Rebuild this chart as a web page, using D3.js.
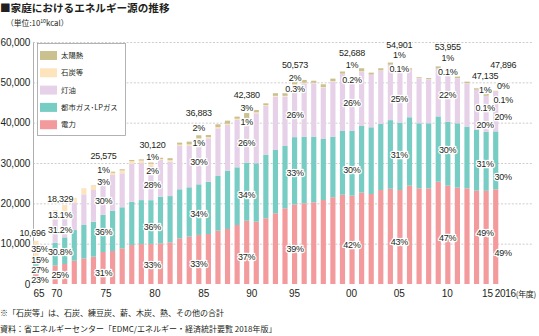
<!DOCTYPE html>
<html><head><meta charset="utf-8">
<script src="https://cdn.jsdelivr.net/npm/d3@7"></script>
<style>
html,body{margin:0;padding:0;background:#fff;}
svg{display:block;font-family:"Liberation Sans","Noto Sans CJK JP",sans-serif;}
</style></head><body>
<svg id="chart" width="539" height="336"></svg>
<script>
// ---------------- data (unit: 10^10 kcal) ----------------
const years = ["1965","1970","1971","1972","1973","1974","1975","1976","1977","1978","1979",
  "1980","1981","1982","1983","1984","1985","1986","1987","1988","1989",
  "1990","1991","1992","1993","1994","1995","1996","1997","1998","1999",
  "2000","2001","2002","2003","2004","2005","2006","2007","2008","2009",
  "2010","2011","2012","2013","2014","2015","2016"];
const electricity = [2460,4582,4960,5780,6360,6780,7928,8180,8850,9670,9900,
  9940,10090,10340,11330,11740,12170,12400,13220,13640,14630,
  15680,15460,16290,17530,18770,19720,20010,20260,20830,21500,
  22130,21900,22650,22320,23310,23610,23310,24380,23720,23720,
  25360,24380,23890,23720,23140,23100,23470];
const cityGasLPG = [2888,5645,6600,7600,8270,8670,9207,10000,10170,10730,10900,
  10843,11560,11460,12150,12230,12540,12970,13560,14460,14300,
  14410,14470,15700,15700,15450,16690,16520,16270,15120,15030,
  15810,16120,16530,16530,16370,17020,16700,16960,16130,16130,
  16190,15880,15960,15300,15050,14610,14370];
const kerosene = [1604,5719,6400,6700,7600,7850,7420,8850,8430,9360,9200,
  8434,9100,8550,10740,10250,11065,10760,11830,11330,11740,
  10600,12400,12150,13220,12230,13000,13230,13230,12730,13640,
  14115,11910,13470,12980,13220,13670,12890,11730,11160,10910,
  11810,11570,11160,10750,9920,8900,9860];
const coalEtc = [3744,2383,1600,1300,1500,1000,767,520,700,690,600,
  602,250,350,330,400,369,300,300,300,300,
  424,250,200,200,200,152,150,140,130,120,
  105,100,90,80,70,55,60,60,50,50,
  54,50,50,50,50,47,48];
const solarHeat = [0,0,0,0,0,100,256,300,300,300,300,
  301,300,500,500,680,738,520,690,770,530,
  1266,570,460,650,650,1011,680,500,700,630,
  527,560,750,490,520,549,530,360,200,250,
  540,370,360,350,370,471,150];

const seriesNames = ["電力","都市ガス･LPガス","灯油","石炭等","太陽熱"];
const yTicks = [0,10000,20000,30000,40000,50000,60000];
const xTickYears = ["1965","1970","1975","1980","1985","1990","1995","2000","2005","2010","2015","2016"];
const xTickLabels = ["65","70","75","80","85","90","95","00","05","10","15","2016"];

const labelYears   = ["1965","1970","1975","1980","1985","1990","1995","2000","2005","2010","2015","2016"];
const totalLabels  = ["10,696","18,329","25,575","30,120","36,883","42,380","50,573","52,688","54,901","53,955","47,135","47,896"];
const pctElectric  = ["23%","25%","31%","33%","33%","37%","39%","42%","43%","47%","49%","49%"];
const pctGas       = ["27%","30.8%","36%","36%","34%","34%","33%","30%","31%","30%","31%","30%"];
const pctKerosene  = ["15%","31.2%","30%","28%","30%","26%","26%","26%","25%","22%","20%","20%"];
const pctCoal      = ["35%","13.1%","3%","2%","1%","1%","0.3%","0.2%","0.1%","0.1%","0.1%","0.1%"];
const pctSolar     = ["","","1%","1%","2%","3%","2%","1%","1%","1%","1%","0%"];

// ---------------- layout / style ----------------
const colors = {e:"#f39a9d", g:"#77cdc3", k:"#e6d1e9", c:"#fde4bd", s:"#cbc18f"};
const keys = ["e","g","k","c","s"];
const textColor = "#231f20";
// label placement tweaks (pixels, relative to data positions)
const labelLayout = {
  "1965":{dx:4, totDx:-3.5, tot:-8,  coalMid:true, e:1, g:2, k:1},
  "1970":{dx:5, tot:-11, coalMid:true, e:0, g:-2, k:-1},
  "1975":{dx:0.5, tot:-25, s:-11, c:1,  e:5, g:-1.5, k:1},
  "1980":{dx:1.5, tot:-18, s:-6, c:8,  e:1, g:5, k:2},
  "1985":{dx:0, tot:-22, s:-7, c:8,  e:4.5, g:4.4, k:0},
  "1990":{dx:0, tot:-18, s:-5, c:9,  e:4, g:3, k:2},
  "1995":{dx:0.5, tot:-15, s:-2, c:9, e:5, g:2, k:4},
  "2000":{dx:9.5, tot:-18.5, s:-6.5, c:8.5, e:5, g:7, k:0.5},
  "2005":{dx:9, tot:-17.6, s:-7.6, c:6.4, e:5, g:0.6, k:6.5},
  "2010":{dx:9.5, tot:-19.4, s:-8.4, c:5.6, e:5, g:1, k:2.5},
  "2015":{dx:-1, tot:-18, s:-4, c:14, e:-5, g:2, k:11},
  "2016":{dx:7.5, tot:-26, s:-5, c:9, e:16, g:16, k:5.5}
};
const tickDx = {"65":3,"70":1.7,"75":3,"80":4,"85":5,"90":5,"95":0,"00":9,"05":9,"10":9,"15":1.5};

const svg = d3.select("#chart");

// scales
const xDomain = [years[0], "gap", ...years.slice(1)];
const x = d3.scaleBand().domain(xDomain).range([31.2, 500.5]).paddingInner(0.46).paddingOuter(0.23);
const y = d3.scaleLinear().domain([0, 60000]).range([284, 42]);
const xc = d => x(d) + x.bandwidth()/2;

// title
svg.append("text").attr("x",0).attr("y",11.5)
  .attr("font-size",10.6).attr("font-weight","bold").attr("fill",textColor)
  .attr("font-family","'Noto Sans CJK JP',sans-serif")
  .text("■家庭におけるエネルギー源の推移");
const sub = svg.append("text").attr("x",6).attr("y",26).attr("font-size",7.8).attr("fill",textColor)
  .attr("font-family","'Noto Sans CJK JP',sans-serif");
sub.append("tspan").text("（単位:10");
sub.append("tspan").attr("font-size",5.2).attr("dy",-3).text("10");
sub.append("tspan").attr("dy",3).text("kcal）");

// y axis with gridlines
const yAxis = d3.axisLeft(y).tickValues(yTicks).tickFormat(d3.format(","))
  .tickSize(-500).tickSizeOuter(0).tickPadding(3);
const gy = svg.append("g").attr("transform","translate(33,0)").call(yAxis);
gy.select(".domain").attr("stroke","#9a9a9a").attr("stroke-width",0.8);
gy.selectAll(".tick line").attr("stroke","#b8b8b8").attr("stroke-width",0.7).attr("stroke-dasharray","2,1.6")
  .filter(d => d === 0).remove();
gy.selectAll(".tick text").attr("font-size",10).attr("fill",textColor)
  .attr("font-family","'Liberation Sans',Arial,sans-serif").attr("letter-spacing",-0.2);

// stacked bars
const rows = years.map((yr,i)=>({year:yr, e:electricity[i], g:cityGasLPG[i], k:kerosene[i], c:coalEtc[i], s:solarHeat[i]}));
const stacked = d3.stack().keys(keys)(rows);
svg.append("g").selectAll("g").data(stacked).join("g")
  .attr("fill", d => colors[d.key])
  .selectAll("rect").data(d => d).join("rect")
  .attr("x", d => x(d.data.year))
  .attr("width", x.bandwidth())
  .attr("y", d => y(d[1]))
  .attr("height", d => Math.max(0, y(d[0]) - y(d[1])));

// legend
const legendOrder = [4,3,2,1,0];
const lg = svg.append("g");
lg.append("rect").attr("x",37.5).attr("y",43.5).attr("width",88).attr("height",92)
  .attr("fill","#fff").attr("stroke","#a0a0a0").attr("stroke-width",0.8);
legendOrder.forEach((si,j)=>{
  const yy = 51 + j*17.3;
  lg.append("rect").attr("x",40).attr("y",yy).attr("width",17).attr("height",9).attr("fill",colors[keys[si]]);
  lg.append("text").attr("x",61).attr("y",yy+4.5).attr("dy","0.35em").attr("font-size",7.4)
    .attr("fill",textColor).attr("font-family","'Noto Sans CJK JP',sans-serif").text(seriesNames[si]);
});

// value labels
const lblG = svg.append("g").attr("font-size",9).attr("fill",textColor).attr("text-anchor","middle")
  .attr("font-family","'Liberation Sans',Arial,sans-serif").attr("letter-spacing",-0.25);
function label(txt, px, py){
  if(!txt) return;
  lblG.append("text").attr("x",px).attr("y",py).attr("dy","0.35em")
    .attr("stroke","#fff").attr("stroke-width",2.6).attr("stroke-linejoin","round")
    .attr("paint-order","stroke").text(txt);
}
labelYears.forEach((yr,i)=>{
  const r = rows[years.indexOf(yr)];
  const L = labelLayout[yr];
  const cx = xc(yr) + L.dx;
  const c1 = r.e, c2 = c1 + r.g, c3 = c2 + r.k, c4 = c3 + r.c, c5 = c4 + r.s;
  const top = y(c5);
  label(pctElectric[i], cx, (y(0)+y(c1))/2 + L.e);
  label(pctGas[i], cx, (y(c1)+y(c2))/2 + L.g);
  label(pctKerosene[i], cx, (y(c2)+y(c3))/2 + L.k);
  label(pctCoal[i], cx, L.coalMid ? (y(c3)+y(c4))/2 : top + L.c);
  label(pctSolar[i], cx, top + (L.s||0));
  label(totalLabels[i], xc(yr) + (L.totDx!==undefined ? L.totDx : L.dx), top + L.tot);
});

// x axis labels
const xg = svg.append("g").attr("font-size",10).attr("fill",textColor)
  .attr("font-family","'Liberation Sans',Arial,sans-serif");
xTickYears.forEach((yr,i)=>{
  const t = xTickLabels[i];
  if(i === xTickYears.length-1){
    const tt = xg.append("text").attr("x", xc(yr)-1).attr("y",293).attr("dy","0.35em").attr("letter-spacing",-0.3);
    tt.append("tspan").text(t);
    tt.append("tspan").attr("font-size",8).attr("font-family","'Noto Sans CJK JP',sans-serif").text("(年度)");
  } else {
    xg.append("text").attr("x", xc(yr) + (tickDx[t]||0)).attr("y",293).attr("dy","0.35em")
      .attr("text-anchor","middle").text(t);
  }
});

// footnotes
const fg = svg.append("g").attr("fill",textColor).attr("font-family","'Noto Sans CJK JP',sans-serif").attr("font-size",8);
fg.append("text").attr("x",0).attr("y",316).text("※「石炭等」は、石炭、練豆炭、薪、木炭、熱、その他の合計");
fg.append("text").attr("x",0).attr("y",332).text("資料：省エネルギーセンター「EDMC/エネルギー・経済統計要覧 2018年版」");
</script>
</body></html>
